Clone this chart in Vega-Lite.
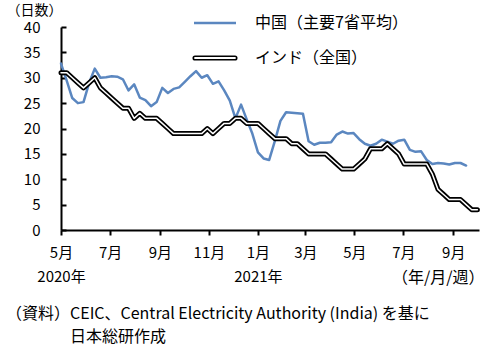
{
  "$schema": "https://vega.github.io/schema/vega-lite/v6.json",
  "autosize": "none",
  "width": 418,
  "height": 203,
  "padding": {"left": 61, "top": 27, "right": 15, "bottom": 120},
  "background": "white",
  "config": {
    "font": "Noto Sans CJK JP",
    "view": {"stroke": null},
    "axis": {"domainColor": "black", "tickColor": "black", "labelColor": "black", "titleColor": "black", "grid": false, "labelFont": "Noto Sans CJK JP", "titleFont": "Noto Sans CJK JP", "labelFontSize": 15, "titleFontSize": 15, "titleFontWeight": "normal", "domainWidth": 2, "tickWidth": 2},
    "legend": {"symbolType": "stroke", "symbolSize": 1764, "symbolOffset": 14, "labelFontSize": 16, "labelFont": "Noto Sans CJK JP", "labelColor": "black", "labelOffset": 32, "rowPadding": 19, "orient": "none", "legendX": 132, "legendY": -12, "title": null, "padding": 0}
  },
  "datasets": {
    "main": [
      {"date": "2020-05-01", "series": "中国（主要7省平均）", "value": 32.8},
      {"date": "2020-05-08", "series": "中国（主要7省平均）", "value": 29.5},
      {"date": "2020-05-15", "series": "中国（主要7省平均）", "value": 26.0},
      {"date": "2020-05-22", "series": "中国（主要7省平均）", "value": 25.0},
      {"date": "2020-05-29", "series": "中国（主要7省平均）", "value": 25.2},
      {"date": "2020-06-05", "series": "中国（主要7省平均）", "value": 29.0},
      {"date": "2020-06-12", "series": "中国（主要7省平均）", "value": 31.8},
      {"date": "2020-06-19", "series": "中国（主要7省平均）", "value": 30.0},
      {"date": "2020-06-26", "series": "中国（主要7省平均）", "value": 30.1},
      {"date": "2020-07-03", "series": "中国（主要7省平均）", "value": 30.3},
      {"date": "2020-07-10", "series": "中国（主要7省平均）", "value": 30.2},
      {"date": "2020-07-17", "series": "中国（主要7省平均）", "value": 29.7},
      {"date": "2020-07-24", "series": "中国（主要7省平均）", "value": 27.5},
      {"date": "2020-07-31", "series": "中国（主要7省平均）", "value": 28.7},
      {"date": "2020-08-07", "series": "中国（主要7省平均）", "value": 26.1},
      {"date": "2020-08-14", "series": "中国（主要7省平均）", "value": 25.6},
      {"date": "2020-08-21", "series": "中国（主要7省平均）", "value": 24.4},
      {"date": "2020-08-28", "series": "中国（主要7省平均）", "value": 25.2},
      {"date": "2020-09-04", "series": "中国（主要7省平均）", "value": 28.0},
      {"date": "2020-09-11", "series": "中国（主要7省平均）", "value": 27.0},
      {"date": "2020-09-18", "series": "中国（主要7省平均）", "value": 27.8},
      {"date": "2020-09-25", "series": "中国（主要7省平均）", "value": 28.1},
      {"date": "2020-10-02", "series": "中国（主要7省平均）", "value": 29.2},
      {"date": "2020-10-09", "series": "中国（主要7省平均）", "value": 30.3},
      {"date": "2020-10-16", "series": "中国（主要7省平均）", "value": 31.3},
      {"date": "2020-10-23", "series": "中国（主要7省平均）", "value": 30.0},
      {"date": "2020-10-30", "series": "中国（主要7省平均）", "value": 30.5},
      {"date": "2020-11-06", "series": "中国（主要7省平均）", "value": 28.8},
      {"date": "2020-11-13", "series": "中国（主要7省平均）", "value": 29.3},
      {"date": "2020-11-20", "series": "中国（主要7省平均）", "value": 27.5},
      {"date": "2020-11-27", "series": "中国（主要7省平均）", "value": 25.5},
      {"date": "2020-12-04", "series": "中国（主要7省平均）", "value": 22.0},
      {"date": "2020-12-11", "series": "中国（主要7省平均）", "value": 24.7},
      {"date": "2020-12-18", "series": "中国（主要7省平均）", "value": 21.8},
      {"date": "2020-12-25", "series": "中国（主要7省平均）", "value": 19.0},
      {"date": "2021-01-01", "series": "中国（主要7省平均）", "value": 15.3},
      {"date": "2021-01-08", "series": "中国（主要7省平均）", "value": 14.1},
      {"date": "2021-01-15", "series": "中国（主要7省平均）", "value": 13.8},
      {"date": "2021-01-22", "series": "中国（主要7省平均）", "value": 17.5},
      {"date": "2021-01-29", "series": "中国（主要7省平均）", "value": 21.5},
      {"date": "2021-02-05", "series": "中国（主要7省平均）", "value": 23.2},
      {"date": "2021-02-12", "series": "中国（主要7省平均）", "value": 23.1},
      {"date": "2021-02-19", "series": "中国（主要7省平均）", "value": 23.0},
      {"date": "2021-02-26", "series": "中国（主要7省平均）", "value": 22.9},
      {"date": "2021-03-05", "series": "中国（主要7省平均）", "value": 17.5},
      {"date": "2021-03-12", "series": "中国（主要7省平均）", "value": 16.8},
      {"date": "2021-03-19", "series": "中国（主要7省平均）", "value": 17.2},
      {"date": "2021-03-26", "series": "中国（主要7省平均）", "value": 17.2},
      {"date": "2021-04-02", "series": "中国（主要7省平均）", "value": 17.3},
      {"date": "2021-04-09", "series": "中国（主要7省平均）", "value": 18.8},
      {"date": "2021-04-16", "series": "中国（主要7省平均）", "value": 19.4},
      {"date": "2021-04-23", "series": "中国（主要7省平均）", "value": 19.0},
      {"date": "2021-04-30", "series": "中国（主要7省平均）", "value": 19.1},
      {"date": "2021-05-07", "series": "中国（主要7省平均）", "value": 17.9},
      {"date": "2021-05-14", "series": "中国（主要7省平均）", "value": 17.0},
      {"date": "2021-05-21", "series": "中国（主要7省平均）", "value": 16.6},
      {"date": "2021-05-28", "series": "中国（主要7省平均）", "value": 17.0},
      {"date": "2021-06-04", "series": "中国（主要7省平均）", "value": 17.8},
      {"date": "2021-06-11", "series": "中国（主要7省平均）", "value": 17.4},
      {"date": "2021-06-18", "series": "中国（主要7省平均）", "value": 17.0},
      {"date": "2021-06-25", "series": "中国（主要7省平均）", "value": 17.6},
      {"date": "2021-07-02", "series": "中国（主要7省平均）", "value": 17.8},
      {"date": "2021-07-09", "series": "中国（主要7省平均）", "value": 15.8},
      {"date": "2021-07-16", "series": "中国（主要7省平均）", "value": 15.4},
      {"date": "2021-07-23", "series": "中国（主要7省平均）", "value": 15.5},
      {"date": "2021-07-30", "series": "中国（主要7省平均）", "value": 13.8},
      {"date": "2021-08-06", "series": "中国（主要7省平均）", "value": 13.0},
      {"date": "2021-08-13", "series": "中国（主要7省平均）", "value": 13.2},
      {"date": "2021-08-20", "series": "中国（主要7省平均）", "value": 13.1},
      {"date": "2021-08-27", "series": "中国（主要7省平均）", "value": 12.9},
      {"date": "2021-09-03", "series": "中国（主要7省平均）", "value": 13.2},
      {"date": "2021-09-10", "series": "中国（主要7省平均）", "value": 13.2},
      {"date": "2021-09-17", "series": "中国（主要7省平均）", "value": 12.7},
      {"date": "2020-05-01", "series": "インド（全国）", "value": 31},
      {"date": "2020-05-08", "series": "インド（全国）", "value": 31},
      {"date": "2020-05-15", "series": "インド（全国）", "value": 30},
      {"date": "2020-05-22", "series": "インド（全国）", "value": 29},
      {"date": "2020-05-29", "series": "インド（全国）", "value": 28},
      {"date": "2020-06-05", "series": "インド（全国）", "value": 29},
      {"date": "2020-06-12", "series": "インド（全国）", "value": 30},
      {"date": "2020-06-19", "series": "インド（全国）", "value": 28},
      {"date": "2020-06-26", "series": "インド（全国）", "value": 27},
      {"date": "2020-07-03", "series": "インド（全国）", "value": 26},
      {"date": "2020-07-10", "series": "インド（全国）", "value": 25},
      {"date": "2020-07-17", "series": "インド（全国）", "value": 24},
      {"date": "2020-07-24", "series": "インド（全国）", "value": 24},
      {"date": "2020-07-31", "series": "インド（全国）", "value": 22},
      {"date": "2020-08-07", "series": "インド（全国）", "value": 23},
      {"date": "2020-08-14", "series": "インド（全国）", "value": 22},
      {"date": "2020-08-21", "series": "インド（全国）", "value": 22},
      {"date": "2020-08-28", "series": "インド（全国）", "value": 22},
      {"date": "2020-09-04", "series": "インド（全国）", "value": 21},
      {"date": "2020-09-11", "series": "インド（全国）", "value": 20},
      {"date": "2020-09-18", "series": "インド（全国）", "value": 19},
      {"date": "2020-09-25", "series": "インド（全国）", "value": 19},
      {"date": "2020-10-02", "series": "インド（全国）", "value": 19},
      {"date": "2020-10-09", "series": "インド（全国）", "value": 19},
      {"date": "2020-10-16", "series": "インド（全国）", "value": 19},
      {"date": "2020-10-23", "series": "インド（全国）", "value": 19},
      {"date": "2020-10-30", "series": "インド（全国）", "value": 20},
      {"date": "2020-11-06", "series": "インド（全国）", "value": 19},
      {"date": "2020-11-13", "series": "インド（全国）", "value": 20},
      {"date": "2020-11-20", "series": "インド（全国）", "value": 21},
      {"date": "2020-11-27", "series": "インド（全国）", "value": 21},
      {"date": "2020-12-04", "series": "インド（全国）", "value": 22},
      {"date": "2020-12-11", "series": "インド（全国）", "value": 22},
      {"date": "2020-12-18", "series": "インド（全国）", "value": 21},
      {"date": "2020-12-25", "series": "インド（全国）", "value": 21},
      {"date": "2021-01-01", "series": "インド（全国）", "value": 21},
      {"date": "2021-01-08", "series": "インド（全国）", "value": 20},
      {"date": "2021-01-15", "series": "インド（全国）", "value": 19},
      {"date": "2021-01-22", "series": "インド（全国）", "value": 18},
      {"date": "2021-01-29", "series": "インド（全国）", "value": 18},
      {"date": "2021-02-05", "series": "インド（全国）", "value": 18},
      {"date": "2021-02-12", "series": "インド（全国）", "value": 17},
      {"date": "2021-02-19", "series": "インド（全国）", "value": 17},
      {"date": "2021-02-26", "series": "インド（全国）", "value": 16},
      {"date": "2021-03-05", "series": "インド（全国）", "value": 15},
      {"date": "2021-03-12", "series": "インド（全国）", "value": 15},
      {"date": "2021-03-19", "series": "インド（全国）", "value": 15},
      {"date": "2021-03-26", "series": "インド（全国）", "value": 15},
      {"date": "2021-04-02", "series": "インド（全国）", "value": 14},
      {"date": "2021-04-09", "series": "インド（全国）", "value": 13},
      {"date": "2021-04-16", "series": "インド（全国）", "value": 12},
      {"date": "2021-04-23", "series": "インド（全国）", "value": 12},
      {"date": "2021-04-30", "series": "インド（全国）", "value": 12},
      {"date": "2021-05-07", "series": "インド（全国）", "value": 13},
      {"date": "2021-05-14", "series": "インド（全国）", "value": 14},
      {"date": "2021-05-21", "series": "インド（全国）", "value": 16},
      {"date": "2021-05-28", "series": "インド（全国）", "value": 16},
      {"date": "2021-06-04", "series": "インド（全国）", "value": 16},
      {"date": "2021-06-11", "series": "インド（全国）", "value": 17},
      {"date": "2021-06-18", "series": "インド（全国）", "value": 16},
      {"date": "2021-06-25", "series": "インド（全国）", "value": 15},
      {"date": "2021-07-02", "series": "インド（全国）", "value": 13},
      {"date": "2021-07-09", "series": "インド（全国）", "value": 13},
      {"date": "2021-07-16", "series": "インド（全国）", "value": 13},
      {"date": "2021-07-23", "series": "インド（全国）", "value": 13},
      {"date": "2021-07-30", "series": "インド（全国）", "value": 13},
      {"date": "2021-08-06", "series": "インド（全国）", "value": 11},
      {"date": "2021-08-13", "series": "インド（全国）", "value": 8},
      {"date": "2021-08-20", "series": "インド（全国）", "value": 7},
      {"date": "2021-08-27", "series": "インド（全国）", "value": 6},
      {"date": "2021-09-03", "series": "インド（全国）", "value": 6},
      {"date": "2021-09-10", "series": "インド（全国）", "value": 6},
      {"date": "2021-09-17", "series": "インド（全国）", "value": 5},
      {"date": "2021-09-24", "series": "インド（全国）", "value": 4},
      {"date": "2021-10-01", "series": "インド（全国）", "value": 4}
    ]
  },
  "data": {"name": "main"},
  "title": {
    "text": ["（資料）CEIC、Central Electricity Authority (India) を基に", "\u200b\u3000\u3000\u3000\u3000日本総研作成"],
    "orient": "bottom",
    "anchor": "start",
    "frame": "group",
    "font": "Noto Sans CJK JP",
    "fontSize": 16,
    "fontWeight": "normal",
    "color": "black",
    "lineHeight": 23,
    "dx": -55,
    "offset": 21
  },
  "encoding": {
    "x": {
      "field": "date",
      "type": "temporal",
      "scale": {"type": "utc", "domain": [{"year": 2020, "month": 5, "date": 1, "utc": true}, {"year": 2021, "month": 10, "date": 3, "utc": true}]},
      "axis": {
        "values": [
          {"year": 2020, "month": 5, "date": 1, "utc": true},
          {"year": 2020, "month": 7, "date": 1, "utc": true},
          {"year": 2020, "month": 9, "date": 1, "utc": true},
          {"year": 2020, "month": 11, "date": 1, "utc": true},
          {"year": 2021, "month": 1, "date": 1, "utc": true},
          {"year": 2021, "month": 3, "date": 1, "utc": true},
          {"year": 2021, "month": 5, "date": 1, "utc": true},
          {"year": 2021, "month": 7, "date": 1, "utc": true},
          {"year": 2021, "month": 9, "date": 1, "utc": true}
        ],
        "labelExpr": "(utcmonth(datum.value) == 4 && utcyear(datum.value) == 2020) ? ['5月', '2020年'] : (utcmonth(datum.value) == 0 ? ['1月', '2021年'] : (utcmonth(datum.value) + 1) + '月')",
        "labelLineHeight": 24,
        "labelBaseline": "top",
        "labelPadding": 10,
        "labelAngle": 0,
        "labelOverlap": false,
        "labelFlush": false,
        "tickSize": 5,
        "title": "（年/月/週）",
        "titleFontSize": 16,
        "titleAnchor": "end",
        "titleAlign": "right",
        "titleBaseline": "middle",
        "titleX": 423,
        "titleY": 47
      }
    },
    "y": {
      "field": "value",
      "type": "quantitative",
      "scale": {"domain": [0, 40], "nice": false, "zero": true},
      "axis": {
        "values": [0, 5, 10, 15, 20, 25, 30, 35, 40],
        "tickSize": -5,
        "labelPadding": 26,
        "title": "（日数）",
        "titleFontSize": 14,
        "titleAngle": 0,
        "titleAlign": "left",
        "titleBaseline": "middle",
        "titleX": -55,
        "titleY": -17
      }
    }
  },
  "layer": [
    {
      "transform": [{"filter": "datum.series == '中国（主要7省平均）'"}],
      "mark": {"type": "line", "strokeWidth": 2.5, "strokeCap": "round", "strokeJoin": "round"},
      "encoding": {
        "color": {
          "field": "series",
          "type": "nominal",
          "scale": {"domain": ["中国（主要7省平均）", "インド（全国）"], "range": ["#5B87C0", "black"]},
          "legend": {
            "encode": {
              "symbols": {
                "update": {
                  "size": {"value": 1764},
                  "shape": {"signal": "datum.value == 'インド（全国）' ? 'M-0.95,-0.085H0.95A0.085,0.085,0,0,1,0.95,0.085H-0.95A0.085,0.085,0,0,1,-0.95,-0.085Z' : 'stroke'"},
                  "fill": {"signal": "datum.value == 'インド（全国）' ? 'white' : 'transparent'"},
                  "stroke": {"signal": "datum.value == 'インド（全国）' ? 'black' : '#5B87C0'"},
                  "strokeWidth": {"signal": "datum.value == 'インド（全国）' ? 1.6 : 2.5"},
                  "opacity": {"value": 1}
                }
              }
            }
          }
        }
      }
    },
    {
      "transform": [{"filter": "datum.series == 'インド（全国）'"}],
      "mark": {"type": "line", "strokeWidth": 5, "strokeCap": "round", "strokeJoin": "round"},
      "encoding": {
        "color": {"field": "series", "type": "nominal"}
      }
    },
    {
      "transform": [{"filter": "datum.series == 'インド（全国）'"}],
      "mark": {"type": "line", "strokeWidth": 1.5, "stroke": "white", "strokeCap": "round", "strokeJoin": "round"},
      "encoding": {}
    }
  ]
}
